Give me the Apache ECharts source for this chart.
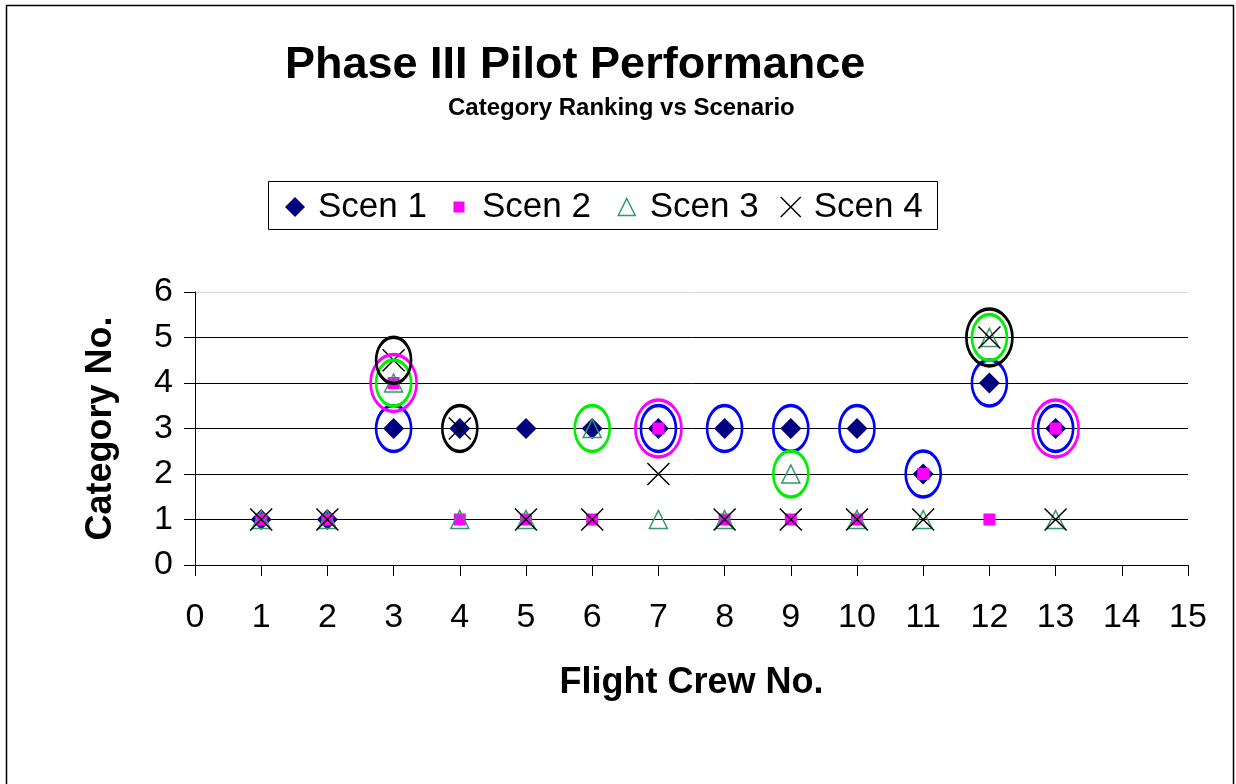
<!DOCTYPE html>
<html><head><meta charset="utf-8">
<script src="https://cdn.jsdelivr.net/npm/echarts@6/dist/echarts.min.js"></script>
<style>html,body{margin:0;padding:0;background:#fff}#c{width:1236px;height:784px}</style>
</head><body><div id="c"></div>
<script>
// ---- data ----
const crews = [1,2,3,4,5,6,7,8,9,10,11,12,13];
const scen1 = [1,1,3,3,3,3,3,3,3,3,2,4,3];
const scen2 = [1,1,4,1,1,1,3,1,1,1,2,1,3];
const scen3 = [1,1,4,1,1,3,1,1,2,1,1,5,1];
const scen4 = [1,1,4.5,3,1,1,2,1,1,1,1,5,1];
// crews whose point is circled (hand-drawn highlight rings)
const circledScen1 = [3,7,8,9,10,11,12,13];
const circledScen2 = [3,7,13];
const circledScen3 = [3,6,9,12];
const circledScen4 = [3,4,12];
const bigCircledScen4 = [12];
const seriesNames = ['Scen 1','Scen 2','Scen 3','Scen 4'];

// ---- build ----
const FONT = '"Liberation Sans", Arial, Helvetica, sans-serif';
const pts = vals => crews.map((c,i) => [c, vals[i]]);
const ringPts = (list, vals) => list.map(c => [c, vals[crews.indexOf(c)]]);
const ELLIPSE = 'path://M0 50 A50 50 0 1 1 100 50 A50 50 0 1 1 0 50 Z';
const XMARK = 'path://M0 0 L20 20 M20 0 L0 20';
const SMALL = [35, 46], BIG = [46, 57];
const ring = (name, data, color, size) => ({
  name, type: 'scatter', data, symbol: ELLIPSE, symbolSize: size, z: 5,
  itemStyle: { color: 'rgba(0,0,0,0)', borderColor: color, borderWidth: 3, opacity: 1 },
  emphasis: { disabled: true }, silent: true
});

const chart = echarts.init(document.getElementById('c'), null, { renderer: 'canvas' });
// icon centred at cx, text starting 23px right of the icon centre
const legendBase = (name, cx, s, bw) => ({
  data: [name], left: cx - s / 2, top: 189, padding: 0, itemWidth: s, itemHeight: s,
  selectedMode: false,
  itemStyle: { borderWidth: bw, opacity: 1 },
  textStyle: { fontFamily: FONT, fontSize: 35, color: '#000', lineHeight: 36,
               padding: [0, 0, 0, 23 - s / 2 - 5] }
});

chart.setOption({
  animation: false,
  backgroundColor: '#fff',
  title: [
    { text: 'Phase III Pilot Performance', left: 285, top: 43, padding: 0,
      textStyle: { fontFamily: FONT, fontSize: 45, fontWeight: 'bold', color: '#000' } },
    { text: 'Category Ranking vs Scenario', left: 448, top: 96, padding: 0,
      textStyle: { fontFamily: FONT, fontSize: 24, fontWeight: 'bold', color: '#000' } }
  ],
  legend: [
    legendBase(seriesNames[0], 295, 20, 0),
    legendBase(seriesNames[1], 459, 11, 0),
    legendBase(seriesNames[2], 626, 17, 1.5),
    legendBase(seriesNames[3], 790, 20, 1.5)
  ],
  graphic: [
    { type: 'rect', shape: { x: 6.5, y: 5.5, width: 1227, height: 800 },
      style: { fill: 'none', stroke: '#000', lineWidth: 1.5 }, silent: true },
    { type: 'rect', shape: { x: 268.5, y: 181.5, width: 669, height: 48 },
      style: { fill: 'none', stroke: '#000', lineWidth: 1 }, silent: true }
  ],
  grid: { left: 195, right: 48, top: 292, bottom: 219, containLabel: false },
  xAxis: {
    type: 'value', min: 0, max: 15, interval: 1,
    name: 'Flight Crew No.', nameLocation: 'middle', nameGap: 100,
    nameTextStyle: { fontFamily: FONT, fontSize: 36, fontWeight: 'bold', color: '#000' },
    axisLine: { show: true, onZero: false, lineStyle: { color: '#000', width: 1 } },
    axisTick: { show: true, length: 11, lineStyle: { color: '#000', width: 1 } },
    axisLabel: { fontFamily: FONT, fontSize: 34, color: '#000', margin: 36 },
    splitLine: { show: false }
  },
  yAxis: {
    type: 'value', min: 0, max: 6, interval: 1,
    name: 'Category No.', nameLocation: 'middle', nameGap: 76, nameRotate: 90,
    nameTextStyle: { fontFamily: FONT, fontSize: 36, fontWeight: 'bold', color: '#000' },
    axisLine: { show: true, lineStyle: { color: '#000', width: 1 } },
    axisTick: { show: true, length: 11, lineStyle: { color: '#000', width: 1 } },
    axisLabel: { fontFamily: FONT, fontSize: 34, color: '#000', margin: 22 },
    splitLine: { show: true, lineStyle: { color: ['#000','#000','#000','#000','#000','#000','#d8d8d8'], width: 1 } }
  },
  series: [
    { name: seriesNames[0], type: 'scatter', data: pts(scen1), symbol: 'diamond', symbolSize: 21,
      itemStyle: { color: '#000080', opacity: 1 }, emphasis: { disabled: true } },
    { name: seriesNames[1], type: 'scatter', data: pts(scen2), symbol: 'rect', symbolSize: 12,
      itemStyle: { color: '#ff00ff', opacity: 1 }, emphasis: { disabled: true } },
    { name: seriesNames[2], type: 'scatter', data: pts(scen3), symbol: 'triangle', symbolSize: 18,
      itemStyle: { color: 'rgba(0,0,0,0)', borderColor: '#339966', borderWidth: 1.5, opacity: 1 }, emphasis: { disabled: true } },
    { name: seriesNames[3], type: 'scatter', data: pts(scen4), symbol: XMARK, symbolSize: 22,
      itemStyle: { color: 'rgba(0,0,0,0)', borderColor: '#000', borderWidth: 1.5, opacity: 1 }, emphasis: { disabled: true } },
    ring('ring1', ringPts(circledScen1, scen1), '#0000ff', SMALL),
    ring('ring2', ringPts(circledScen2, scen2), '#ff00ff', BIG),
    ring('ring3', ringPts(circledScen3, scen3), '#00ee00', SMALL),
    ring('ring4', ringPts(circledScen4, scen4), '#000', v => bigCircledScen4.includes(v[0]) ? BIG : SMALL)
  ]
});
</script></body></html>
